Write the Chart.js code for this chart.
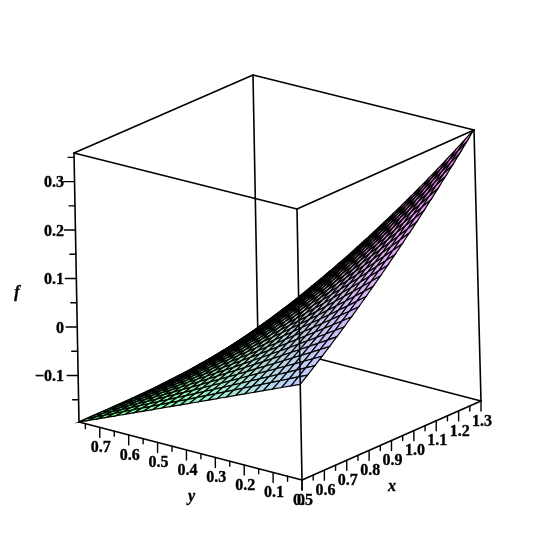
<!DOCTYPE html>
<html><head><meta charset="utf-8">
<style>html,body{margin:0;padding:0;background:#fff}canvas{display:block}</style>
<script src="https://cdn.jsdelivr.net/npm/chart.js@4"></script>
</head><body><canvas id="c" width="555" height="555"></canvas>
<script>
const xRange=[0.5,1.3], yRange=[0,0.772], fRange=[-0.196,0.359];
const xMajor=[0.5,0.6,0.7,0.8,0.9,1.0,1.1,1.2,1.3];
const xLabels=["0.5","0.6","0.7","0.8","0.9","1.0","1.1","1.2","1.3"];
const xMinor=[0.55,0.65,0.75,0.85,0.95,1.05,1.15,1.25];
const yMajor=[0,0.1,0.2,0.3,0.4,0.5,0.6,0.7];
const yLabels=["0","0.1","0.2","0.3","0.4","0.5","0.6","0.7"];
const yMinor=[0.05,0.15,0.25,0.35,0.45,0.55,0.65,0.75];
const fMajor=[-0.1,0,0.1,0.2,0.3];
const fLabels=["\u22120.1","0","0.1","0.2","0.3"];
const fMinor=[-0.15,-0.05,0.05,0.15,0.25,0.35];
const gridX=[.5,.5333,.5667,.6,.6333,.6667,.7,.7333,.7667,.8,.8333,.8667,.9,.9333,.9667,1,1.0333,1.0667,1.1,1.1333,1.1667,1.2,1.2333,1.2667,1.3];
const gridY=[0,.0322,.0643,.0965,.1287,.1608,.193,.2252,.2573,.2895,.3217,.3538,.386,.4182,.4503,.4825,.5147,.5468,.579,.6112,.6433,.6755,.7077,.7398,.772];
const surface=[
[0,-.0082,-.0163,-.0245,-.0327,-.0408,-.049,-.0572,-.0653,-.0735,-.0817,-.0898,-.098,-.1062,-.1143,-.1225,-.1307,-.1388,-.147,-.1552,-.1633,-.1715,-.1797,-.1878,-.196],
[.0122,.0034,-.0054,-.0142,-.0229,-.0317,-.0404,-.0491,-.0579,-.0666,-.0754,-.084,-.0927,-.1014,-.11,-.1187,-.1273,-.1359,-.1445,-.1531,-.1617,-.1703,-.1789,-.1874,-.196],
[.0247,.0152,.0058,-.0036,-.013,-.0224,-.0317,-.041,-.0503,-.0596,-.0689,-.0781,-.0872,-.0964,-.1056,-.1147,-.1238,-.1329,-.142,-.1511,-.1601,-.1691,-.1781,-.1871,-.196],
[.0373,.0272,.0172,.0071,-.0028,-.0128,-.0227,-.0326,-.0425,-.0524,-.0622,-.072,-.0816,-.0913,-.101,-.1106,-.1202,-.1298,-.1394,-.1489,-.1584,-.1678,-.1772,-.1866,-.1959],
[.0503,.0395,.0288,.0181,.0075,-.0031,-.0136,-.0241,-.0345,-.045,-.0554,-.0657,-.0759,-.0861,-.0963,-.1065,-.1166,-.1267,-.1367,-.1467,-.1566,-.1665,-.1763,-.1861,-.1959],
[.0635,.052,.0407,.0294,.0181,.0069,-.0042,-.0153,-.0264,-.0374,-.0484,-.0592,-.07,-.0808,-.0915,-.1022,-.1128,-.1234,-.1339,-.1444,-.1547,-.1651,-.1753,-.1856,-.1957],
[.0769,.0648,.0528,.0408,.0289,.0171,.0053,-.0064,-.0181,-.0297,-.0412,-.0526,-.064,-.0753,-.0865,-.0977,-.1089,-.12,-.131,-.1419,-.1527,-.1635,-.1742,-.1849,-.1955],
[.0905,.0777,.065,.0524,.0399,.0274,.015,.0027,-.0096,-.0218,-.0339,-.0459,-.0578,-.0697,-.0814,-.0932,-.1049,-.1165,-.128,-.1394,-.1507,-.162,-.1732,-.1843,-.1952],
[.1044,.0909,.0775,.0642,.051,.0379,.0249,.012,-.0009,-.0137,-.0264,-.039,-.0515,-.0639,-.0762,-.0885,-.1007,-.1128,-.1248,-.1367,-.1485,-.1603,-.1719,-.1835,-.1949],
[.1186,.1044,.0903,.0763,.0625,.0487,.0351,.0215,.008,-.0054,-.0187,-.0319,-.0449,-.0579,-.0708,-.0836,-.0963,-.109,-.1215,-.1339,-.1462,-.1584,-.1705,-.1826,-.1944],
[.133,.1181,.1034,.0887,.0742,.0597,.0454,.0312,.0171,.0031,-.0108,-.0246,-.0382,-.0518,-.0652,-.0786,-.0918,-.105,-.118,-.1309,-.1437,-.1564,-.169,-.1815,-.1938],
[.1476,.132,.1166,.1013,.0861,.071,.056,.0412,.0265,.0118,-.0027,-.0171,-.0313,-.0454,-.0594,-.0733,-.0871,-.1008,-.1143,-.1277,-.141,-.1542,-.1673,-.1802,-.193],
[.1625,.1462,.1301,.1141,.0982,.0824,.0668,.0513,.036,.0207,.0056,-.0094,-.0242,-.0389,-.0535,-.0679,-.0822,-.0964,-.1105,-.1244,-.1382,-.1519,-.1654,-.1788,-.1921],
[.1776,.1606,.1439,.1272,.1106,.0941,.0779,.0617,.0457,.0298,.0141,-.0015,-.0169,-.0322,-.0473,-.0623,-.0772,-.0919,-.1065,-.121,-.1353,-.1495,-.1634,-.1773,-.1911],
[.193,.1753,.1578,.1404,.1231,.106,.0891,.0723,.0556,.0391,.0228,.0066,-.0094,-.0253,-.041,-.0566,-.072,-.0873,-.1024,-.1174,-.1322,-.1469,-.1613,-.1757,-.1899],
[.2086,.1902,.172,.1539,.1359,.1182,.1006,.0831,.0658,.0487,.0318,.015,-.0016,-.0181,-.0344,-.0505,-.0665,-.0824,-.098,-.1135,-.1288,-.144,-.1589,-.1738,-.1884],
[.2244,.2053,.1863,.1675,.1489,.1305,.1122,.0941,.0762,.0585,.0409,.0235,.0063,-.0107,-.0276,-.0443,-.0609,-.0773,-.0935,-.1095,-.1252,-.1409,-.1564,-.1717,-.1868],
[.2405,.2208,.2011,.1816,.1623,.1432,.1242,.1055,.0869,.0686,.0504,.0324,.0145,-.0031,-.0205,-.0378,-.0549,-.0719,-.0886,-.1051,-.1214,-.1376,-.1536,-.1694,-.185],
[.2569,.2364,.216,.1958,.1758,.156,.1364,.117,.0978,.0788,.06,.0414,.0229,.0047,-.0133,-.0312,-.0488,-.0663,-.0835,-.1006,-.1174,-.1342,-.1507,-.1669,-.1829],
[.2735,.2522,.2311,.2103,.1896,.1692,.1489,.1288,.109,.0894,.0699,.0507,.0316,.0128,-.0058,-.0242,-.0424,-.0604,-.0782,-.0958,-.1131,-.1303,-.1473,-.1641,-.1806],
[.2903,.2683,.2465,.225,.2036,.1825,.1615,.1408,.1203,.1001,.08,.0602,.0405,.0211,.0019,-.0171,-.0358,-.0544,-.0727,-.0908,-.1087,-.1263,-.1437,-.161,-.1781],
[.3073,.2846,.2621,.2399,.2179,.1961,.1745,.1531,.132,.1111,.0904,.07,.0497,.0297,.01,-.0096,-.0289,-.048,-.0668,-.0855,-.1039,-.122,-.14,-.1577,-.1752],
[.3247,.3012,.278,.2551,.2324,.2099,.1876,.1656,.1438,.1223,.101,.0799,.0591,.0385,.0182,-.002,-.0219,-.0415,-.0608,-.08,-.0989,-.1176,-.136,-.1542,-.1721],
[.3422,.318,.2941,.2705,.2471,.224,.201,.1784,.1559,.1338,.1119,.0903,.0688,.0477,.0268,.006,-.0144,-.0345,-.0544,-.0741,-.0935,-.1127,-.1316,-.1502,-.1687],
[.36,.3351,.3105,.2862,.2621,.2383,.2147,.1914,.1683,.1455,.123,.1008,.0788,.057,.0355,.0143,-.0067,-.0274,-.0478,-.068,-.0879,-.1076,-.127,-.1461,-.165]
];

/* screen positions of the eight box corners: [x index][y index][f index] */
const corners=[[[[302,480],[297,209]],[[79,422],[74,153]]],[[[481,401],[474,130]],[[258,343],[253,75]]]];
const nx=v=>(v-xRange[0])/(xRange[1]-xRange[0]);
const ny=v=>(v-yRange[0])/(yRange[1]-yRange[0]);
const nf=v=>(v-fRange[0])/(fRange[1]-fRange[0]);
function project(x,y,f){
  const u=nx(x),t=ny(y),h=nf(f),p=[0,0];
  for(let a=0;a<2;a++)for(let b=0;b<2;b++)for(let c=0;c<2;c++){
    const w=(a?u:1-u)*(b?t:1-t)*(c?h:1-h),q=corners[a][b][c];
    p[0]+=w*q[0];p[1]+=w*q[1];
  }
  return {x:p[0],y:p[1]};
}
function cellColor(u,t){
  const cl=v=>Math.max(0,Math.min(255,Math.round(v)));
  return `rgb(${cl(190+65*u-85*t)},${cl(205-75*u+80*t)},${cl(255-5*u-125*t)})`;
}
const line=(pts,w,col)=>({data:pts,showLine:true,borderColor:col||'#000',borderWidth:w,pointRadius:0,fill:false,tension:0,borderCapStyle:'round',borderJoinStyle:'round'});
const back=[],front=[],cells=[];
const [x0,x1]=xRange,[y0,y1]=yRange,[f0,f1]=fRange;
// edges hidden by the surface
back.push(line([project(x1,y1,f0),project(x1,y1,f1)],1.6));
back.push(line([project(x1,y1,f0),project(x1,y0,f0)],1.6));
back.push(line([project(x1,y1,f0),project(x0,y1,f0)],1.6));
back.push(line([project(x0,y1,f1),project(x1,y1,f1)],1.6));
back.push(line([project(x1,y1,f1),project(x1,y0,f1)],1.6));
back.push(line([project(x1,y0,f0),project(x1,y0,f1)],1.6));
back.push(line([project(x0,y1,f0),project(x0,y1,f1)],1.6));
// surface quads, far to near
const ci=[];
for(let i=0;i<gridX.length-1;i++)for(let j=0;j<gridY.length-1;j++)ci.push([i,j]);
ci.sort((a,b)=>(b[0]/(gridX.length-1)+b[1]/(gridY.length-1))-(a[0]/(gridX.length-1)+a[1]/(gridY.length-1)));
for(const [i,j] of ci){
  const P=(a,b)=>project(gridX[a],gridY[b],surface[a][b]);
  const um=(i+.5)/(gridX.length-1),tm=(j+.5)/(gridY.length-1);
  cells.push({data:[P(i,j),P(i+1,j),P(i+1,j+1),P(i,j+1),P(i,j)],showLine:true,fill:'shape',backgroundColor:cellColor(um,tm),borderColor:'#000',borderWidth:1.2,pointRadius:0,tension:0});
}
// front edges and ticks
front.push(line([project(x0,y0,f0),project(x0,y0,f1)],1.6));
front.push(line([project(x0,y0,f1),project(x1,y0,f1)],1.6));
front.push(line([project(x0,y0,f1),project(x0,y1,f1)],1.6));
front.push(line([project(x0,y0,f0),project(x1,y0,f0)],1.6));
front.push(line([project(x0,y0,f0),project(x0,y1,f0)],1.6));
const seg=(p,dx,dy)=>line([p,{x:p.x+dx,y:p.y+dy}],1.4);
xMajor.forEach(v=>front.push(seg(project(v,y0,f0),0,10)));
xMinor.forEach(v=>front.push(seg(project(v,y0,f0),0,5)));
yMajor.forEach(v=>front.push(seg(project(x0,v,f0),0,10)));
yMinor.forEach(v=>front.push(seg(project(x0,v,f0),0,5)));
fMajor.forEach(v=>front.push(seg(project(x0,y1,v),-11,0)));
fMinor.forEach(v=>front.push(seg(project(x0,y1,v),-6,0)));
const all=[...back,...cells,...front].reverse();
const textPlugin={id:'axisText',afterDraw(chart){
  const g=chart.ctx,sx=chart.scales.x,sy=chart.scales.y;
  const put=(s,p,dx,dy)=>{const X=sx.getPixelForValue(p.x)+dx,Y=sy.getPixelForValue(p.y)+dy;g.fillText(s,X,Y);g.strokeText(s,X,Y);};
  g.save();g.fillStyle='#000';g.strokeStyle='#000';g.lineWidth=.35;g.textBaseline='middle';g.textAlign='center';g.font='bold 16px "Liberation Serif"';
  xMajor.forEach((v,i)=>put(xLabels[i],project(v,y0,f0),1,20.5));
  yMajor.forEach((v,i)=>put(yLabels[i],project(x0,v,f0),v===0?-1:1,20.5));
  g.textAlign='right';
  fMajor.forEach((v,i)=>{const p=project(x0,y1,v);put(fLabels[i],{x:0,y:p.y},64,1.5);});
  g.font='italic bold 16px "Liberation Serif"';g.textAlign='center';
  put('x',{x:392,y:487},0,0);put('y',{x:191.5,y:497},0,0);put('f',{x:17,y:293},0,0);
  g.restore();
}};
new Chart(document.getElementById('c'),{type:'scatter',data:{datasets:all},plugins:[textPlugin],options:{
  responsive:false,animation:false,events:[],layout:{padding:0},
  plugins:{legend:{display:false},tooltip:{enabled:false},title:{display:false}},
  elements:{point:{radius:0}},
  scales:{x:{type:'linear',min:0,max:555,display:false},y:{type:'linear',min:0,max:555,reverse:true,display:false}}
}});
</script></body></html>
